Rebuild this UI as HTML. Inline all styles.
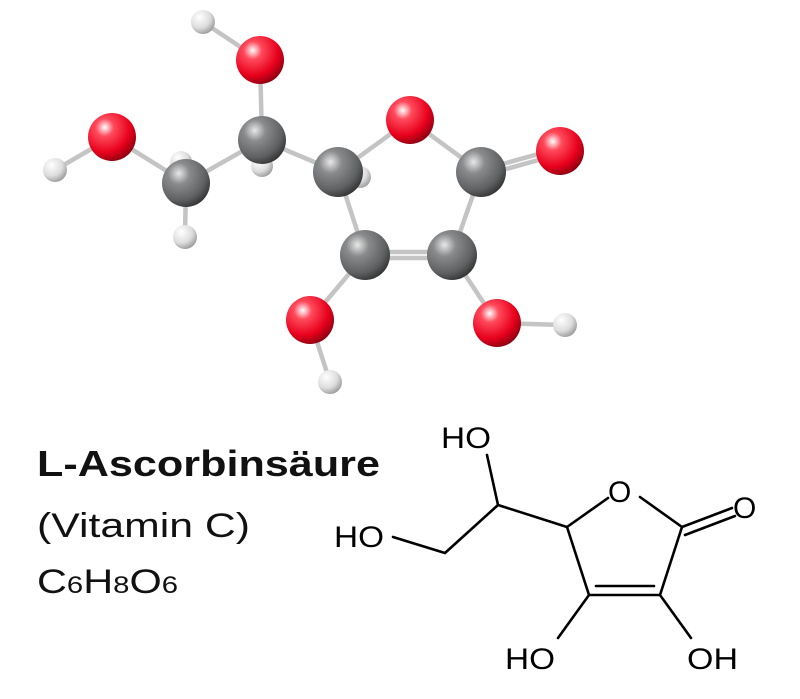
<!DOCTYPE html>
<html><head><style>html,body{margin:0;padding:0;background:#fff;}svg{display:block}</style></head><body>
<svg width="800" height="699" viewBox="0 0 800 699" xmlns="http://www.w3.org/2000/svg">
<defs>
<radialGradient id="r" cx="0.35" cy="0.3" r="0.75"><stop offset="0" stop-color="#fff"/><stop offset="0.25" stop-color="#ff4a5c"/><stop offset="0.7" stop-color="#e8001c"/><stop offset="1" stop-color="#8a0010"/></radialGradient>
<radialGradient id="g" cx="0.35" cy="0.3" r="0.75"><stop offset="0" stop-color="#e8e8e8"/><stop offset="0.3" stop-color="#8a8b8d"/><stop offset="0.75" stop-color="#5e6062"/><stop offset="1" stop-color="#333"/></radialGradient>
<radialGradient id="w" cx="0.35" cy="0.3" r="0.75"><stop offset="0" stop-color="#fff"/><stop offset="0.6" stop-color="#ddd"/><stop offset="1" stop-color="#999"/></radialGradient>
</defs>
<g stroke="#c4c4c4" stroke-width="4.5" stroke-linecap="round">
<line x1="203" y1="22" x2="260" y2="60"/><line x1="260" y1="60" x2="262" y2="140"/>
<line x1="55" y1="170" x2="112" y2="137"/><line x1="112" y1="137" x2="186" y2="183"/>
<line x1="186" y1="183" x2="185" y2="237"/><line x1="186" y1="183" x2="262" y2="140"/>
<line x1="262" y1="140" x2="338" y2="172"/><line x1="338" y1="172" x2="410" y2="120"/>
<line x1="410" y1="120" x2="481" y2="172"/><line x1="481" y1="170" x2="560" y2="148"/><line x1="481" y1="176" x2="560" y2="154"/>
<line x1="338" y1="172" x2="365" y2="255"/><line x1="481" y1="172" x2="452" y2="255"/>
<line x1="365" y1="252" x2="452" y2="252"/><line x1="365" y1="258" x2="452" y2="258"/>
<line x1="365" y1="255" x2="310" y2="320"/><line x1="310" y1="320" x2="330" y2="382"/>
<line x1="452" y1="255" x2="497" y2="323"/><line x1="497" y1="323" x2="565" y2="325"/>
</g>
<circle cx="181" cy="162" r="11" fill="url(#w)"/><circle cx="262" cy="166" r="11" fill="url(#w)"/><circle cx="360" cy="177" r="11" fill="url(#w)"/>
<circle cx="203" cy="22" r="12" fill="url(#w)"/><circle cx="55" cy="170" r="12" fill="url(#w)"/><circle cx="185" cy="237" r="12" fill="url(#w)"/>
<circle cx="330" cy="382" r="12" fill="url(#w)"/><circle cx="565" cy="325" r="12" fill="url(#w)"/>
<circle cx="260" cy="60" r="24" fill="url(#r)"/><circle cx="112" cy="137" r="24" fill="url(#r)"/>
<circle cx="186" cy="183" r="24" fill="url(#g)"/><circle cx="262" cy="140" r="24" fill="url(#g)"/>
<circle cx="338" cy="172" r="25" fill="url(#g)"/><circle cx="410" cy="120" r="24" fill="url(#r)"/>
<circle cx="481" cy="172" r="25" fill="url(#g)"/><circle cx="560" cy="151" r="24" fill="url(#r)"/>
<circle cx="365" cy="255" r="25" fill="url(#g)"/><circle cx="452" cy="255" r="25" fill="url(#g)"/>
<circle cx="310" cy="320" r="24" fill="url(#r)"/><circle cx="497" cy="323" r="24" fill="url(#r)"/>
<g stroke="#000" stroke-width="2.6" fill="none" stroke-linecap="round">
<polyline points="487,455 498,505 567,527"/><polyline points="498,505 445,553 393,537"/>
<line x1="567" y1="527" x2="608" y2="498"/><line x1="640" y1="497" x2="682" y2="527"/>
<line x1="682" y1="527" x2="732" y2="508"/><line x1="685" y1="535" x2="735" y2="516"/>
<line x1="567" y1="527" x2="589" y2="595"/><line x1="682" y1="527" x2="660" y2="595"/>
<line x1="589" y1="595" x2="660" y2="595"/><line x1="596" y1="586" x2="654" y2="586"/>
<line x1="589" y1="595" x2="558" y2="638"/><line x1="660" y1="595" x2="691" y2="638"/>
</g>
<g font-family="Liberation Sans, sans-serif" font-size="30" fill="#000">
<text x="441" y="448" textLength="50" lengthAdjust="spacingAndGlyphs">HO</text><text x="334" y="547" textLength="50" lengthAdjust="spacingAndGlyphs">HO</text>
<text x="608" y="502">O</text><text x="733" y="518">O</text>
<text x="505" y="669" textLength="50" lengthAdjust="spacingAndGlyphs">HO</text><text x="687" y="669" textLength="51" lengthAdjust="spacingAndGlyphs">OH</text>
</g>
<g font-family="Liberation Sans, sans-serif" fill="#111">
<text x="37" y="476" font-size="36" font-weight="bold" textLength="343" lengthAdjust="spacingAndGlyphs">L-Ascorbinsäure</text>
<text x="37" y="537" font-size="34" textLength="213" lengthAdjust="spacingAndGlyphs">(Vitamin C)</text>
<text x="37" y="593" font-size="34" textLength="141" lengthAdjust="spacingAndGlyphs">C<tspan font-size="24">6</tspan>H<tspan font-size="24">8</tspan>O<tspan font-size="24">6</tspan></text>
</g>
</svg>
</body></html>
